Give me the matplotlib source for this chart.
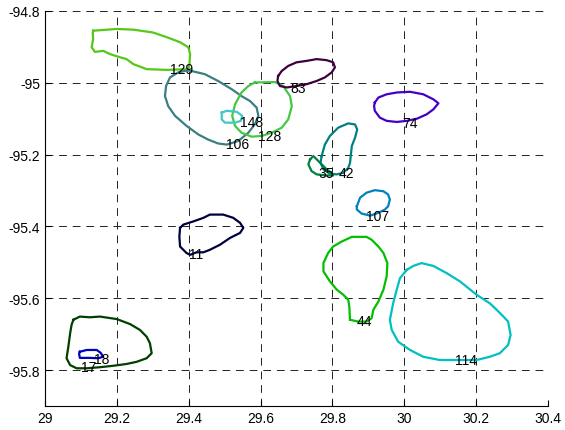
import matplotlib
matplotlib.use("Agg")
from matplotlib import pyplot as plt
import numpy as np

# closed eddy contours: (label, colour, lon, lat, label lon, label lat)
lon_129 = [29.134, 29.200, 29.246, 29.301, 29.339, 29.376, 29.399, 29.404, 29.402, 29.399, 29.339,
           29.283, 29.246, 29.227, 29.209, 29.181, 29.162, 29.139, 29.130, 29.134, 29.133]
lat_129 = [-94.855, -94.850, -94.852, -94.860, -94.873, -94.887, -94.901, -94.920, -94.948, -94.962, -94.964,
           -94.962, -94.948, -94.934, -94.929, -94.920, -94.911, -94.914, -94.901, -94.878, -94.860]

lon_106 = [29.399, 29.445, 29.482, 29.520, 29.547, 29.571, 29.589, 29.594, 29.584, 29.566, 29.538,
           29.506, 29.482, 29.454, 29.427, 29.394, 29.362, 29.343, 29.334, 29.337, 29.348, 29.371]
lat_106 = [-94.965, -94.976, -94.995, -95.018, -95.037, -95.051, -95.069, -95.092, -95.116, -95.139, -95.162,
           -95.172, -95.169, -95.158, -95.144, -95.120, -95.092, -95.065, -95.037, -95.009, -94.985, -94.971]

lon_128 = [29.584, 29.640, 29.663, 29.682, 29.687, 29.677, 29.659, 29.631, 29.603, 29.575, 29.547,
           29.529, 29.521, 29.529, 29.547, 29.566]
lat_128 = [-94.999, -94.998, -95.009, -95.037, -95.065, -95.102, -95.125, -95.139, -95.148, -95.150, -95.139,
           -95.120, -95.092, -95.060, -95.027, -95.009]

lon_148 = [29.492, 29.506, 29.534, 29.549, 29.545, 29.529, 29.501, 29.492]
lat_148 = [-95.083, -95.078, -95.081, -95.092, -95.106, -95.111, -95.111, -95.102]

lon_83 = [29.649, 29.659, 29.677, 29.700, 29.728, 29.756, 29.784, 29.802, 29.807, 29.798, 29.779,
          29.756, 29.728, 29.700, 29.673, 29.654, 29.647]
lat_83 = [-94.981, -94.967, -94.953, -94.943, -94.939, -94.934, -94.937, -94.943, -94.957, -94.971, -94.985,
          -94.995, -95.004, -95.009, -95.013, -95.009, -94.995]

lon_42 = [29.770, 29.779, 29.793, 29.816, 29.844, 29.863, 29.869, 29.863, 29.854, 29.851, 29.849,
          29.844, 29.830, 29.812, 29.793, 29.775, 29.767]
lat_42 = [-95.204, -95.172, -95.148, -95.125, -95.113, -95.116, -95.130, -95.153, -95.176, -95.204, -95.223,
          -95.237, -95.251, -95.255, -95.253, -95.241, -95.223]

lon_35 = [29.738, 29.747, 29.756, 29.770, 29.784, 29.798, 29.802, 29.784, 29.756, 29.742, 29.733]
lat_35 = [-95.213, -95.204, -95.213, -95.227, -95.241, -95.251, -95.258, -95.258, -95.255, -95.246, -95.227]

lon_74 = [29.918, 29.928, 29.951, 29.979, 30.016, 30.053, 30.081, 30.095, 30.081, 30.062, 30.035,
          30.007, 29.979, 29.951, 29.932, 29.918, 29.916]
lat_74 = [-95.055, -95.041, -95.032, -95.027, -95.025, -95.032, -95.046, -95.057, -95.074, -95.088, -95.100,
          -95.106, -95.109, -95.106, -95.097, -95.078, -95.065]

lon_107 = [29.868, 29.877, 29.895, 29.918, 29.942, 29.955, 29.960, 29.955, 29.946, 29.928, 29.905, 29.881, 29.868]
lat_107 = [-95.344, -95.320, -95.306, -95.299, -95.302, -95.311, -95.325, -95.344, -95.353, -95.362, -95.370,
           -95.364, -95.353]

lon_44 = [29.849, 29.847, 29.844, 29.830, 29.812, 29.793, 29.775, 29.775, 29.788, 29.802, 29.826, 29.854,
          29.895, 29.909, 29.928, 29.942, 29.953, 29.951, 29.942, 29.928, 29.914, 29.909, 29.895, 29.872]
lat_44 = [-95.660, -95.623, -95.604, -95.590, -95.576, -95.553, -95.525, -95.502, -95.474, -95.456, -95.442,
          -95.429, -95.429, -95.437, -95.456, -95.474, -95.502, -95.539, -95.576, -95.609, -95.632, -95.656,
          -95.665, -95.665]

lon_114 = [30.007, 30.025, 30.048, 30.081, 30.118, 30.155, 30.201, 30.238, 30.257, 30.276, 30.289, 30.296,
           30.289, 30.266, 30.238, 30.201, 30.146, 30.099, 30.053, 30.016, 29.983, 29.965, 29.960, 29.969,
           29.979, 29.988]
lat_114 = [-95.521, -95.510, -95.502, -95.510, -95.530, -95.553, -95.590, -95.614, -95.632, -95.651, -95.665,
           -95.702, -95.730, -95.753, -95.763, -95.772, -95.772, -95.772, -95.763, -95.744, -95.721, -95.688,
           -95.660, -95.614, -95.576, -95.544]

lon_11 = [29.376, 29.385, 29.413, 29.441, 29.459, 29.496, 29.524, 29.543, 29.552, 29.543, 29.515, 29.487,
          29.459, 29.441, 29.422, 29.404, 29.394, 29.376, 29.374]
lat_11 = [-95.404, -95.395, -95.386, -95.376, -95.367, -95.367, -95.376, -95.390, -95.404, -95.418, -95.432,
          -95.451, -95.465, -95.472, -95.472, -95.479, -95.474, -95.456, -95.428]

lon_17 = [29.079, 29.097, 29.125, 29.153, 29.200, 29.237, 29.264, 29.283, 29.292, 29.297, 29.283, 29.255,
          29.227, 29.190, 29.153, 29.116, 29.088, 29.070, 29.060, 29.065, 29.070, 29.074]
lat_17 = [-95.660, -95.651, -95.653, -95.651, -95.658, -95.672, -95.688, -95.707, -95.725, -95.753, -95.767,
          -95.777, -95.783, -95.788, -95.792, -95.795, -95.795, -95.786, -95.767, -95.735, -95.698, -95.674]

lon_18 = [29.097, 29.116, 29.144, 29.155, 29.162, 29.148, 29.125, 29.097, 29.095]
lat_18 = [-95.749, -95.744, -95.744, -95.752, -95.763, -95.767, -95.766, -95.766, -95.755]

eddies = [
    ("129", "#55c818", lon_129, lat_129, 29.381, -94.962),
    ("106", "#3a8080", lon_106, lat_106, 29.537, -95.171),
    ("128", "#44c844", lon_128, lat_128, 29.626, -95.149),
    ("148", "#40c8c8", lon_148, lat_148, 29.576, -95.110),
    ("83", "#400040", lon_83, lat_83, 29.704, -95.015),
    ("74", "#4400c4", lon_74, lat_74, 30.016, -95.113),
    ("42", "#008080", lon_42, lat_42, 29.838, -95.250),
    ("35", "#008040", lon_35, lat_35, 29.782, -95.252),
    ("107", "#0080c0", lon_107, lat_107, 29.927, -95.370),
    ("44", "#00c000", lon_44, lat_44, 29.888, -95.663),
    ("114", "#00c0c0", lon_114, lat_114, 30.172, -95.772),
    ("11", "#000040", lon_11, lat_11, 29.420, -95.476),
    ("17", "#004000", lon_17, lat_17, 29.122, -95.792),
    ("18", "#0000c0", lon_18, lat_18, 29.159, -95.769),
]

x_ticks = [29, 29.2, 29.4, 29.6, 29.8, 30, 30.2, 30.4]
y_ticks = [-95.8, -95.6, -95.4, -95.2, -95, -94.8]

plt.rcParams['font.family'] = ['Liberation Sans', 'DejaVu Sans']

fig = plt.figure(figsize=(5.65, 4.31), dpi=100)
ax = fig.add_axes([0.0796, 0.0557, 0.8903, 0.9165])

for name, col, lon, lat, lx, ly in eddies:
    xs = list(lon) + [lon[0]]
    ys = list(lat) + [lat[0]]
    ax.plot(xs, ys, color=col, lw=1.6, zorder=3)
    ax.text(lx, ly, name, ha="center", va="center", fontsize=10, color="black", zorder=4)

ax.set_xlim(29, 30.4)
ax.set_ylim(-95.9, -94.8)
ax.set_xticks(x_ticks)
ax.set_xticklabels(["29", "29.2", "29.4", "29.6", "29.8", "30", "30.2", "30.4"])
ax.set_yticks(y_ticks)
ax.set_yticklabels(["-95.8", "-95.6", "-95.4", "-95.2", "-95", "-94.8"])
ax.tick_params(direction="in", length=4, labelsize=10, width=0.8)
ax.grid(True, color="#222222", linestyle=(0, (8, 6)), lw=0.7)
ax.spines["top"].set_visible(False)
ax.spines["right"].set_visible(False)
ax.set_axisbelow(True)

fig.savefig("out.png", dpi=100)
